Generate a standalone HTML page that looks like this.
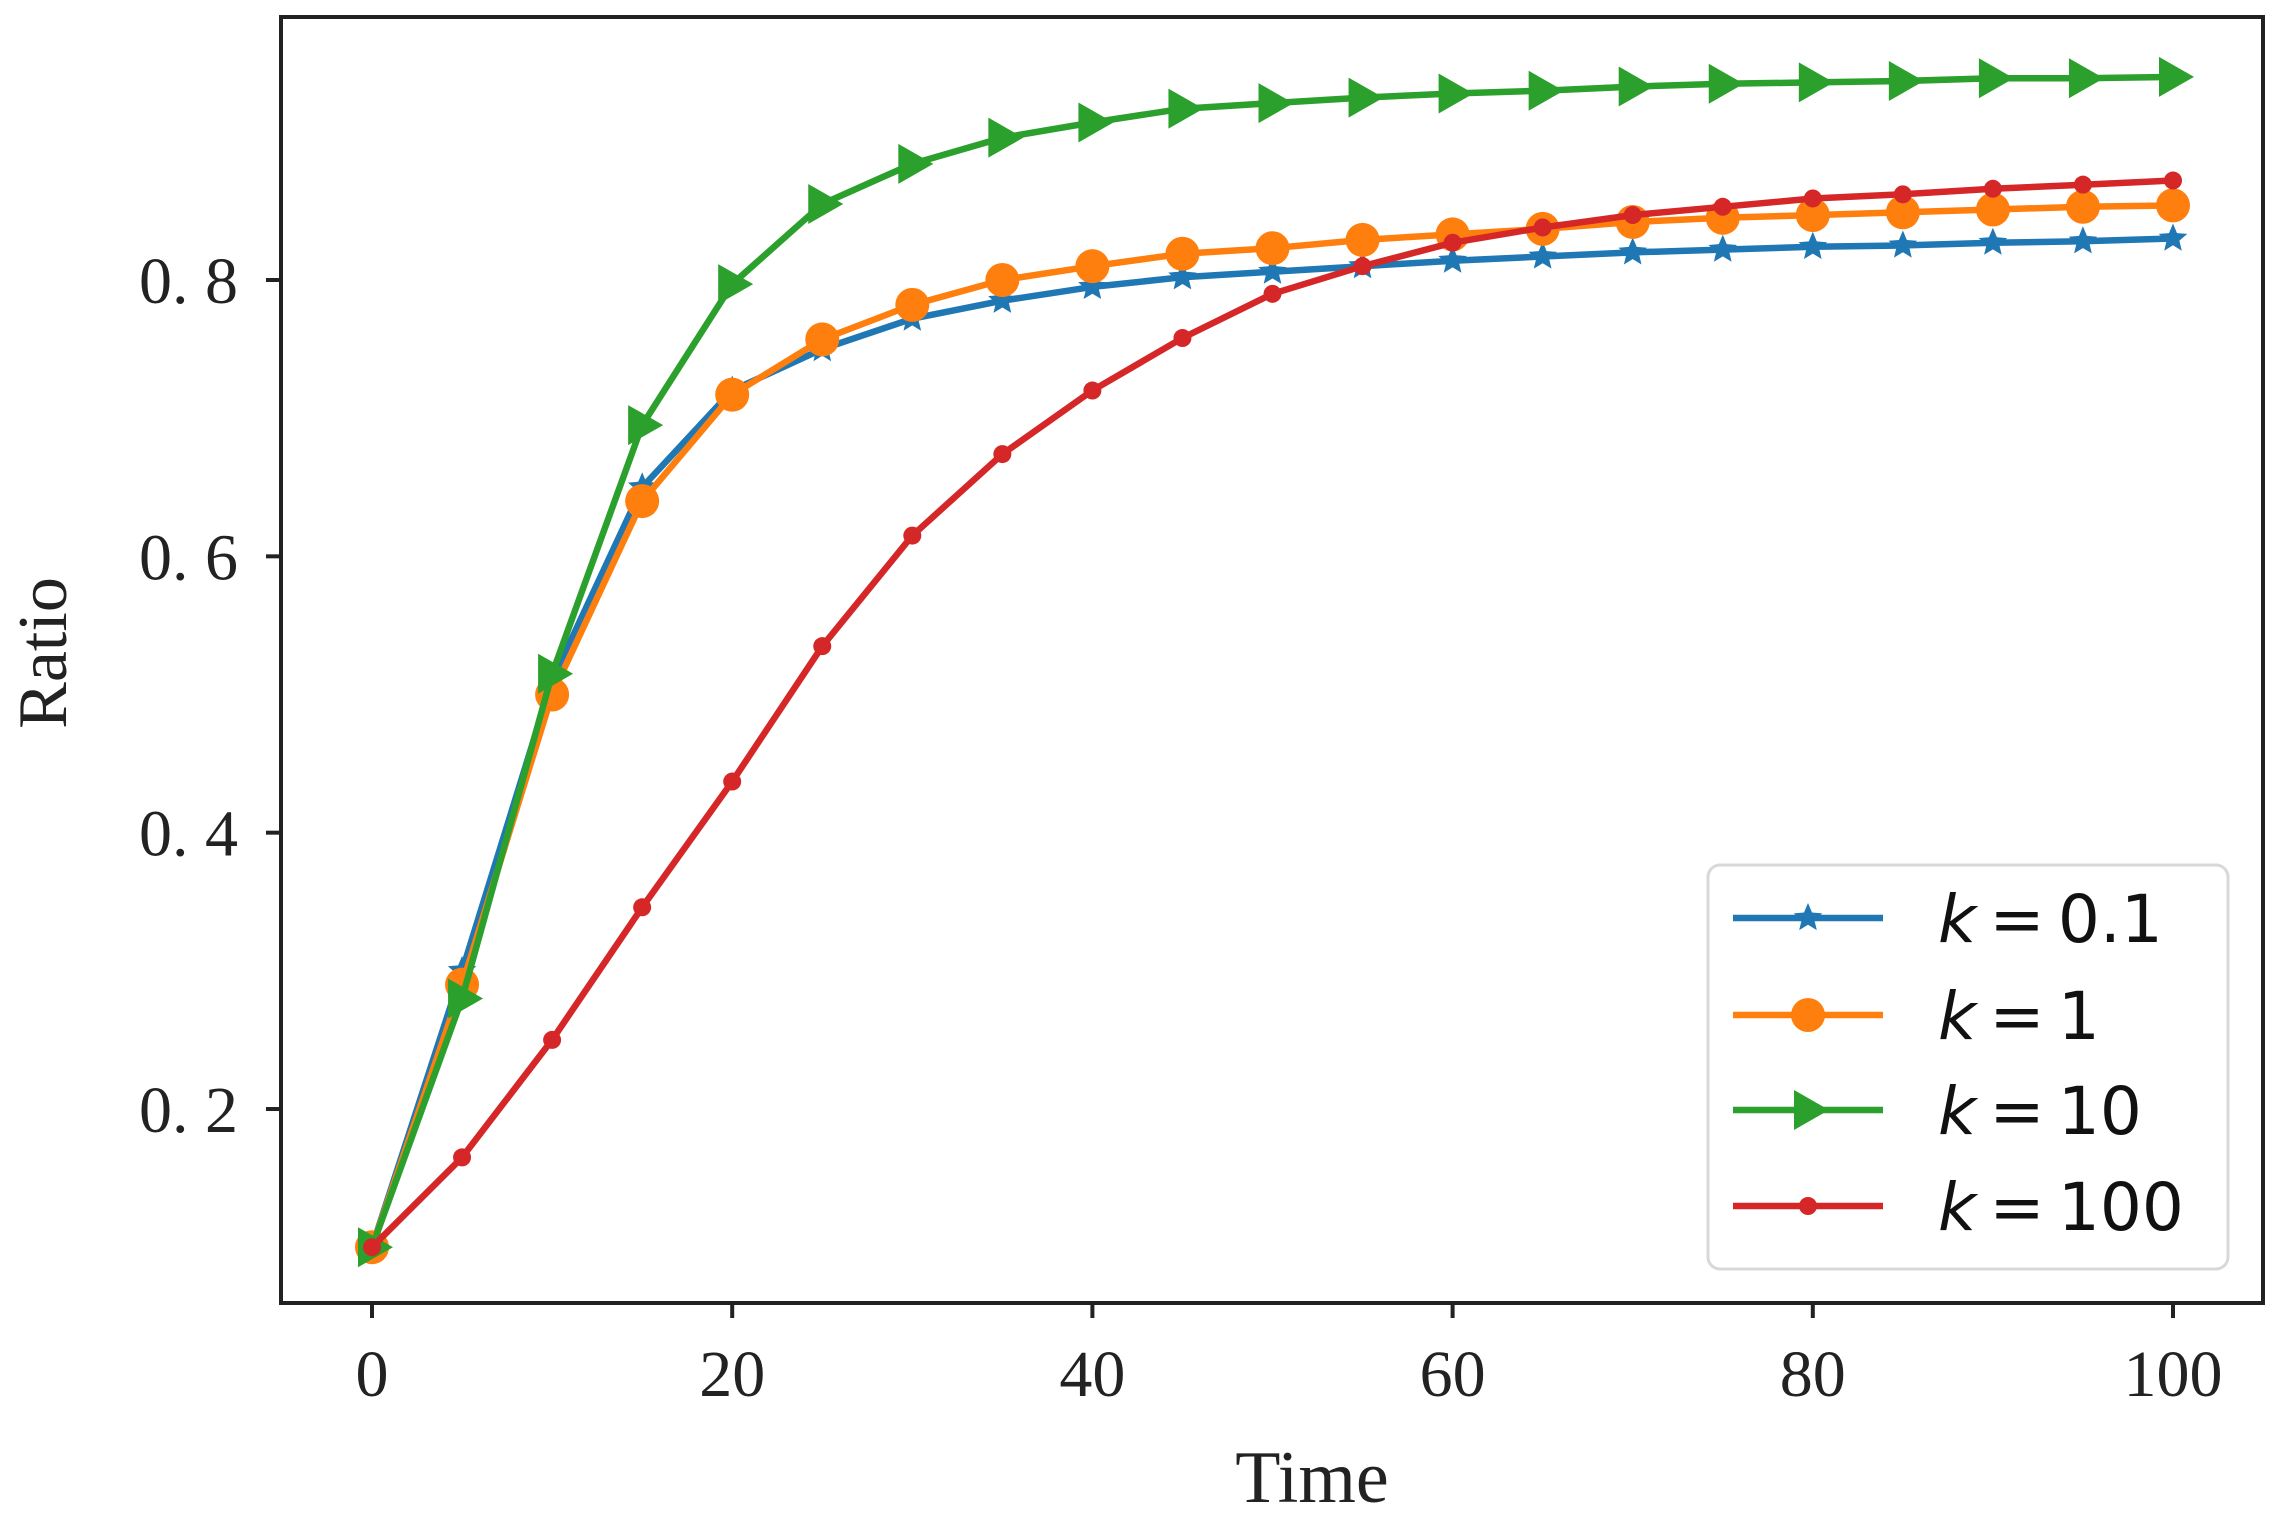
<!DOCTYPE html>
<html><head><meta charset="utf-8"><style>
html,body{margin:0;padding:0;background:#fff;}
svg{display:block;}
</style></head><body>
<svg id="chart" width="2278" height="1528" viewBox="0 0 2278 1528" xmlns="http://www.w3.org/2000/svg">
<rect x="0" y="0" width="2278" height="1528" fill="#fff"/>
<g id="plot"></g>
<rect x="281" y="17" width="1982" height="1286" fill="none" stroke="#222" stroke-width="4"/>
<g id="axes"></g>
<text transform="translate(66,653) rotate(-90)" text-anchor="middle" font-family="Liberation Serif, serif" font-size="70" fill="#222">Ratio</text>
<text x="1312" y="1502" text-anchor="middle" font-family="Liberation Serif, serif" font-size="74" fill="#222">Time</text>
<g id="legend"></g>
</svg>
<script>
const times = [0,5,10,15,20,25,30,35,40,45,50,55,60,65,70,75,80,85,90,95,100];
const seriesK01 = [0.1,0.30,0.51,0.65,0.72,0.75,0.772,0.785,0.795,0.802,0.806,0.81,0.814,0.817,0.82,0.822,0.824,0.825,0.827,0.828,0.83];
const seriesK1 = [0.1,0.29,0.50,0.64,0.717,0.757,0.782,0.80,0.81,0.819,0.823,0.829,0.833,0.837,0.842,0.845,0.847,0.849,0.851,0.853,0.854];
const seriesK10 = [0.1,0.28,0.515,0.695,0.797,0.855,0.884,0.903,0.914,0.924,0.928,0.932,0.935,0.937,0.94,0.942,0.943,0.944,0.946,0.946,0.947];
const seriesK100 = [0.1,0.165,0.25,0.346,0.437,0.535,0.615,0.674,0.72,0.758,0.79,0.81,0.827,0.838,0.847,0.853,0.859,0.862,0.866,0.869,0.872];
const xTicks = [0,20,40,60,80,100];
const yTicks = [0.2,0.4,0.6,0.8];
const yTickLabels = ["0. 2","0. 4","0. 6","0. 8"];
const legendLabels = ["0.1","1","10","100"];

const NS="http://www.w3.org/2000/svg";
function xs(t){return 372 + t*18.01;}
function ys(v){return 280 + (0.8-v)*1381.7;}
function mk(tag,attrs,parent){const e=document.createElementNS(NS,tag);for(const k in attrs)e.setAttribute(k,attrs[k]);parent.appendChild(e);return e;}
const plot=document.getElementById('plot'), axes=document.getElementById('axes'), legend=document.getElementById('legend');

function star(cx,cy,r){let p=[];for(let i=0;i<10;i++){const a=-Math.PI/2+i*Math.PI/5;const rr=i%2?r*0.45:r;p.push((cx+rr*Math.cos(a)).toFixed(1)+','+(cy+rr*Math.sin(a)).toFixed(1));}return p.join(' ');}
function drawMarker(kind,cx,cy,color,parent,name){
  let m;
  if(kind==='star'){m=mk('polygon',{points:star(cx,cy,15),fill:color},parent);}
  else if(kind==='circle'){m=mk('circle',{cx:cx,cy:cy,r:17,fill:color},parent);}
  else if(kind==='tri'){m=mk('polygon',{points:`${cx+21},${cy} ${cx-14},${cy-20} ${cx-14},${cy+20}`,fill:color},parent);}
  else {m=mk('circle',{cx:cx,cy:cy,r:9,fill:color},parent);}
  
  
}
const series=[
  {vals:seriesK01,color:'#1f77b4',kind:'star',name:'k-0-1'},
  {vals:seriesK1,color:'#ff7f0e',kind:'circle',name:'k-1'},
  {vals:seriesK10,color:'#2ca02c',kind:'tri',name:'k-10'},
  {vals:seriesK100,color:'#d62728',kind:'dot',name:'k-100'}
];
series.forEach(s=>{
  const g=mk('g',{},plot);
  
  
  const pts=times.map((t,i)=>xs(t).toFixed(1)+','+ys(s.vals[i]).toFixed(1)).join(' ');
  const line=mk('polyline',{points:pts,fill:'none',stroke:s.color,'stroke-width':6.5,'stroke-linejoin':'round'},g);
  
  
  times.forEach((t,i)=>drawMarker(s.kind,xs(t),ys(s.vals[i]),s.color,g,'marker-'+s.name));
});

xTicks.forEach(t=>{
  const l=mk('line',{x1:xs(t),x2:xs(t),y1:1303,y2:1318,stroke:'#222','stroke-width':4},axes);
  
  
  const tx=mk('text',{x:xs(t),y:1396,'text-anchor':'middle','font-family':'Liberation Serif, serif','font-size':66,fill:'#222'},axes);
  tx.textContent=t;
  
  
});
yTicks.forEach((v,i)=>{
  const l=mk('line',{x1:266,x2:281,y1:ys(v),y2:ys(v),stroke:'#222','stroke-width':4},axes);
  
  
  const tx=mk('text',{x:238,y:ys(v)+23,'text-anchor':'end','font-family':'Liberation Serif, serif','font-size':66,fill:'#222','xml:space':'preserve'},axes);
  tx.textContent=yTickLabels[i];
  
  
});

const box=mk('rect',{x:1708,y:865,width:520,height:404,rx:12,fill:'#fff',stroke:'#d8d8d8','stroke-width':3},legend);


const ly=[918,1015,1110,1206];
series.forEach((s,i)=>{
  const g=mk('g',{},legend);
  
  
  mk('line',{x1:1733,x2:1883,y1:ly[i],y2:ly[i],stroke:s.color,'stroke-width':6.5},g);
  drawMarker(s.kind,1808,ly[i],s.color,g,'legend-marker');
  const tx=mk('text',{x:1938,y:ly[i]+24,'font-family':'DejaVu Sans, sans-serif','font-size':66,fill:'#111'},g);
  const k=mk('tspan',{'font-style':'italic'},tx); k.textContent='k';
  const r=mk('tspan',{},tx); r.textContent='\u2009=\u2009'+legendLabels[i];
});
</script>
</body></html>
